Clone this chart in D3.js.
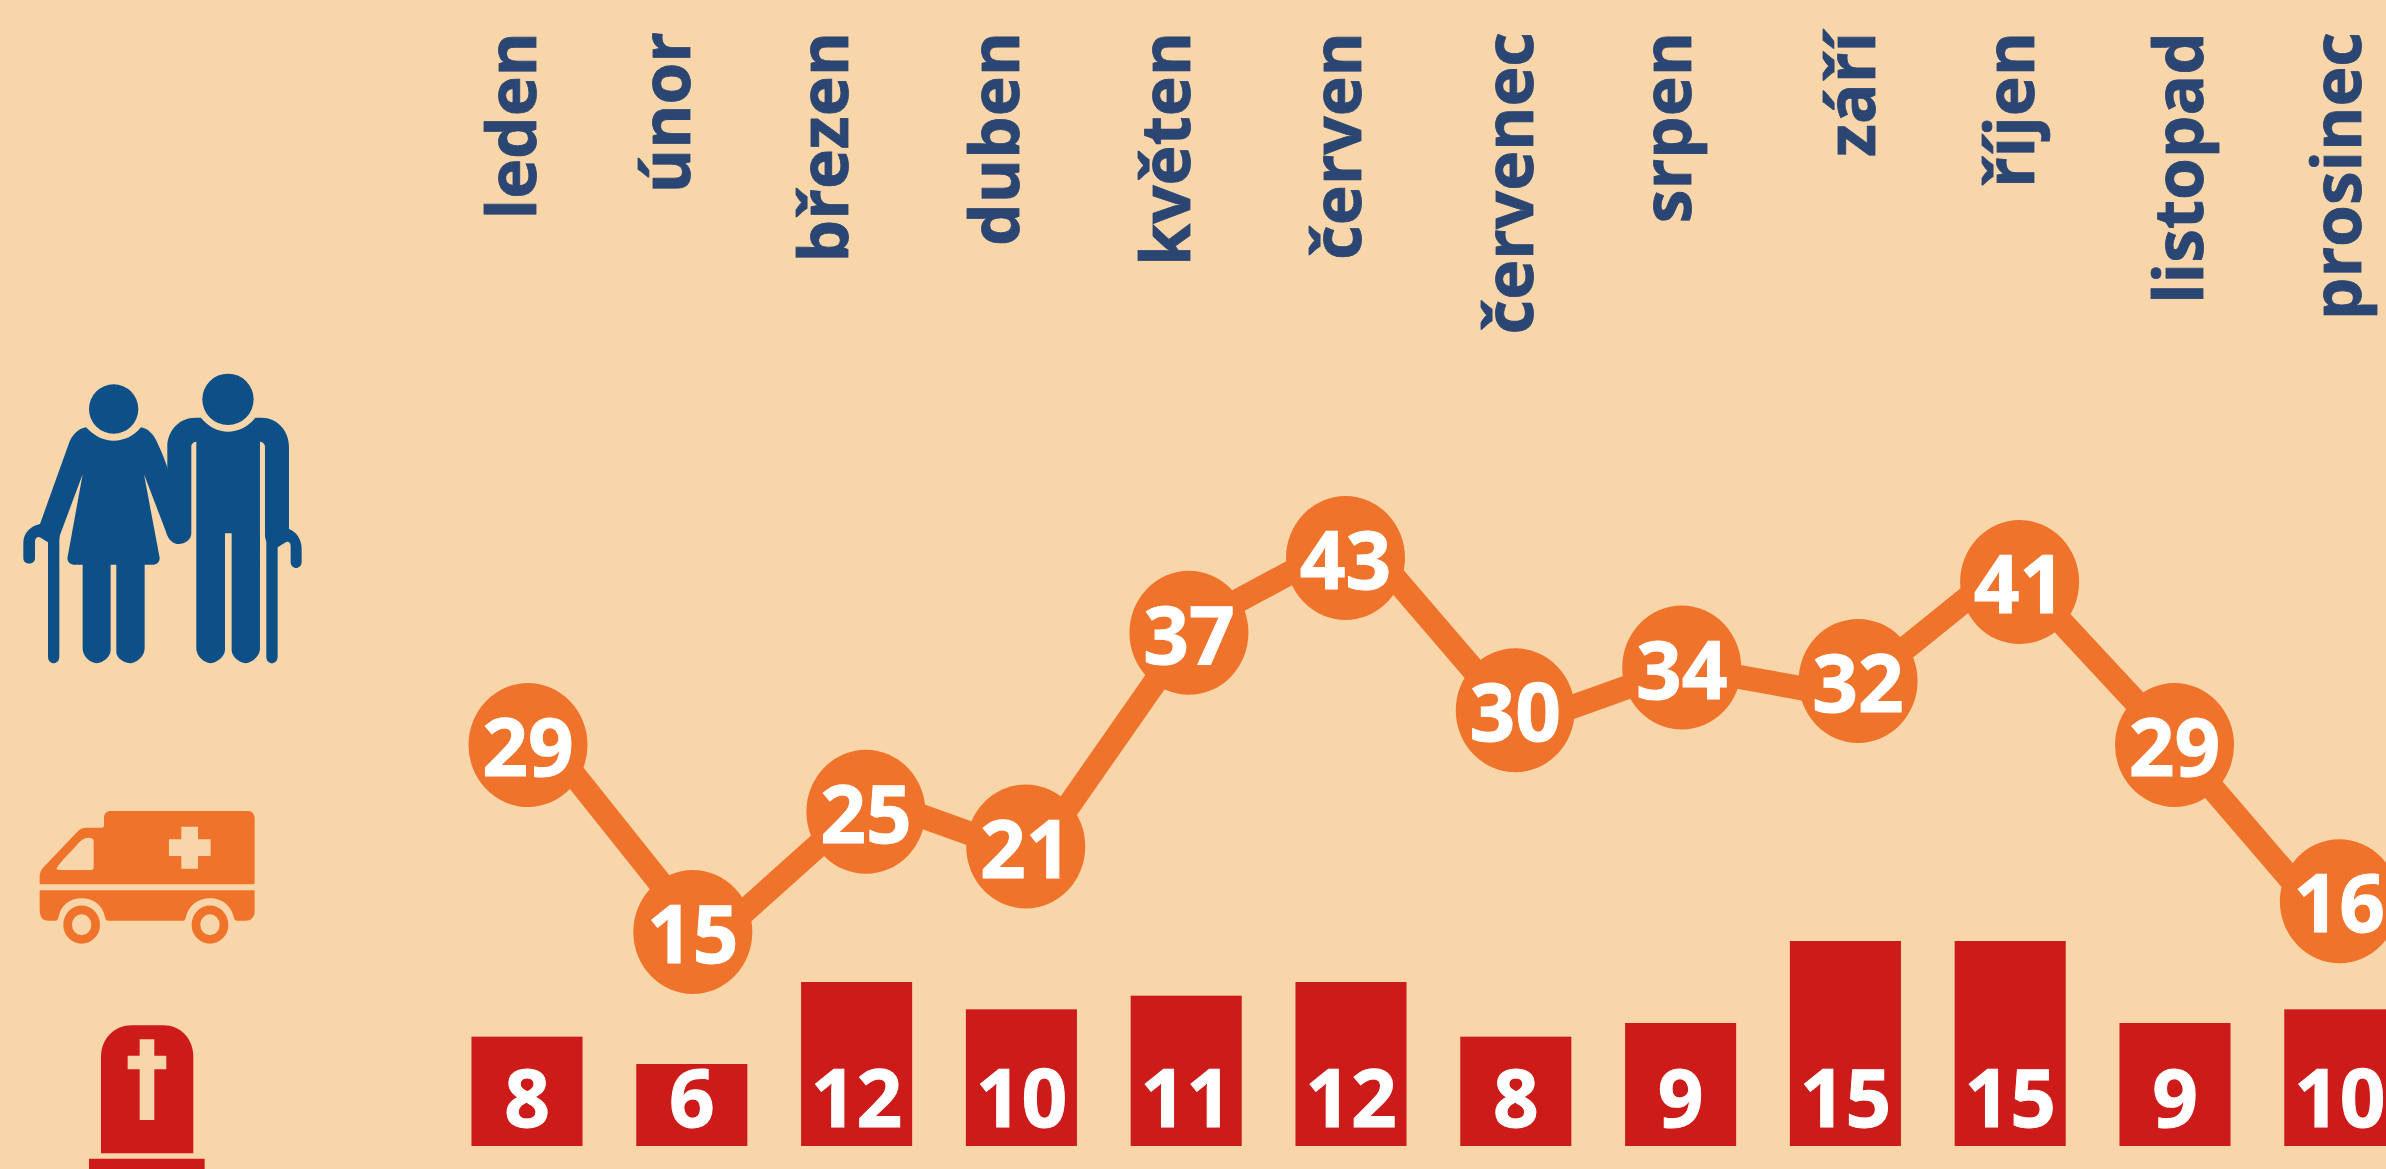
<!DOCTYPE html>
<html lang="cs">
<head>
<meta charset="utf-8">
<title>Senioři</title>
<script src="https://cdn.jsdelivr.net/npm/d3@7"></script>
<style>
  html, body { margin: 0; padding: 0; background: #f8d6aa; overflow: hidden; }
  svg { display: block; }
  text { font-family: "Open Sans", sans-serif; font-weight: 700; }
</style>
</head>
<body>
<svg class="chart"></svg>
<script>
const months = ["leden", "únor", "březen", "duben", "květen", "červen", "červenec", "srpen", "září", "říjen", "listopad", "prosinec"]

// ambulance call-outs, these drive the line
const calls = [29, 15, 25, 21, 37, 43, 30, 34, 32, 41, 29, 16]
// the circles on top are hand placed in the source and do not sit on the line,
// so keep where they really are, in the same units as the data
const bubbleLevels = [29, 15, 24, 21.4, 37.4, 43, 31.6, 34.8, 33.8, 41.2, 29, 17.3]
const bubbleMonthPos = [0, 1, 2.05, 3.02, 4.01, 4.96, 5.99, 7, 8.07, 9.05, 9.99, 10.99]
const labelMonthPos = [0, 0.93, 1.88, 2.91, 3.94, 4.97, 6.01, 6.96, 8.07, 9.03, 10.05, 11]

const deaths = [8, 6, 12, 10, 11, 12, 8, 9, 15, 15, 9, 10]

const width = 2386
const height = 1169
const bg = "#f8d6aa"
const orange = "#f0732b"
const red = "#cd1b1a"
const navy = "#2b4672"
const blue = "#0d5087"

const svg = d3.select("svg.chart").attr("width", width).attr("height", height)

// scales
const xBars = d3.scaleBand()
  .domain(months)
  .range([444.6, 2422.2])
  .paddingInner(0.326)
  .paddingOuter(0.163)
const yBars = d3.scaleLinear().domain([0, 15]).range([1146, 941])

const xLine = d3.scaleLinear().domain([0, 11]).range([546, 2333.5])
const yLine = d3.scaleLinear().domain([15, 43]).range([943.6, 536])

const xBubbles = d3.scaleLinear().domain([0, 11]).range([528, 2341])
const yBubbles = d3.scaleLinear().domain([15, 43]).range([932, 558])

const xLabels = d3.scaleLinear().domain([0, 11]).range([536, 2361])

// month names, rotated
svg.append("g")
  .selectAll("text")
  .data(months)
  .enter()
  .append("text")
  .attr("transform", (d, i) => `translate(${xLabels(labelMonthPos[i])}, 32) rotate(-90)`)
  .attr("text-anchor", "end")
  .attr("fill", navy)
  .attr("stroke", navy)
  .attr("stroke-width", 0.8)
  .style("font-size", "67.5px")
  .text(d => d)

// line
const line = d3.line()
  .x((d, i) => xLine(i))
  .y(d => yLine(d))

svg.append("path")
  .datum(calls)
  .attr("d", line)
  .attr("fill", "none")
  .attr("stroke", orange)
  .attr("stroke-width", 24)

// circles
const bubbles = svg.append("g")
  .selectAll("g")
  .data(bubbleLevels)
  .enter()
  .append("g")
  .attr("transform", (d, i) => `translate(${xBubbles(bubbleMonthPos[i])}, ${yBubbles(d)})`)

bubbles.append("ellipse")
  .attr("rx", 59.5)
  .attr("ry", 62)
  .attr("fill", orange)

bubbles.append("text")
  .attr("y", 31)
  .attr("text-anchor", "middle")
  .attr("fill", "#fff")
  .attr("stroke", "#fff")
  .attr("stroke-width", 1)
  .style("font-size", "80px")
  .text((d, i) => calls[i])

// bars
svg.append("g")
  .selectAll("rect")
  .data(deaths)
  .enter()
  .append("rect")
  .attr("x", (d, i) => xBars(months[i]))
  .attr("y", d => yBars(d))
  .attr("width", xBars.bandwidth())
  .attr("height", d => yBars(0) - yBars(d))
  .attr("fill", red)

svg.append("g")
  .selectAll("text")
  .data(deaths)
  .enter()
  .append("text")
  .attr("x", (d, i) => xBars(months[i]) + xBars.bandwidth() / 2)
  .attr("y", 1127)
  .attr("text-anchor", "middle")
  .attr("fill", "#fff")
  .attr("stroke", "#fff")
  .attr("stroke-width", 1)
  .style("font-size", "80px")
  .text(d => d)

// icons, traced at 3x so they are scaled back down
const couple = svg.append("g").attr("transform", "translate(0, 340) scale(0.3333)").attr("fill", blue)
couple.append("circle").attr("cx", 341).attr("cy", 207).attr("r", 74)
couple.append("circle").attr("cx", 684).attr("cy", 178).attr("r", 77)
couple.append("path").attr("d", "M258,262 C285,290 310,302 341,302 C372,302 400,290 423,262 C445,265 462,285 472,308 C485,335 495,360 503,385 L540,600 L510,600 L498,575 L432,403 L478,648 C482,662 474,674 460,674 L434,674 L434,925 C434,950 410,968 392,970 C372,968 349,955 349,935 L349,674 L332,674 L332,930 C332,950 310,968 290,970 C270,968 248,950 248,925 L248,674 L222,674 C208,674 200,662 203,650 L248,403 L180,585 L178,600 L178,950 C178,976 144,976 144,950 L144,607 L122,593 C115,588 105,592 105,605 L105,655 C105,676 70,676 70,655 L70,610 C70,578 92,558 120,552 L205,315 C215,285 235,265 258,262 Z")
couple.append("path").attr("d", "M603,233 C625,260 655,275 684,275 C713,275 745,260 766,233 L785,233 C830,233 867,270 867,320 L867,567 C890,575 905,600 905,625 L905,665 C905,690 872,690 872,665 L872,618 C872,605 862,603 855,608 L833,622 L833,950 C833,976 799,976 799,950 L799,605 L795,590 L795,320 C795,312 788,305 780,305 L780,925 C780,950 755,968 737,970 C718,968 695,950 695,930 L695,580 L675,580 L675,930 C675,950 650,968 632,970 C612,968 589,950 589,925 L589,305 C580,305 574,312 574,320 L574,580 C574,600 555,612 536,612 C520,612 505,600 498,575 L502,385 L502,320 C502,270 540,233 585,233 Z")

const ambulance = svg.append("g").attr("transform", "translate(0, 780) scale(0.3333)")
ambulance.append("path").attr("fill", orange).attr("d", "M330,93 L745,93 C757,93 764,103 764,115 L764,308 C764,312 762,313 760,313 L122,313 C120,313 119,312 119,308 L119,295 C119,280 122,270 132,260 L232,155 C240,147 247,143 258,143 L305,143 C310,143 312,141 312,136 L312,115 C312,102 320,93 330,93 Z")
ambulance.append("path").attr("fill", bg).attr("d", "M170,265 C185,240 215,215 235,190 C245,178 258,172 272,174 C278,175 281,178 281,185 L281,262 C281,267 278,270 273,270 L180,270 C172,270 168,268 170,265 Z")
ambulance.append("path").attr("fill", bg).attr("d", "M544,140 L594,140 L594,178 L632,178 L632,228 L594,228 L594,266 L544,266 L544,228 L507,228 L507,178 L544,178 Z")
ambulance.append("path").attr("fill", orange).attr("d", "M119,331 L764,331 L764,395 C764,412 752,422 738,422 L712,422 C705,422 703,418 701,410 C692,375 665,355 630,355 C595,355 567,375 558,410 C556,418 555,422 548,422 L325,422 C318,422 317,418 315,410 C307,375 280,355 245,355 C210,355 183,375 176,410 C174,418 172,422 165,422 L145,422 C125,422 119,410 119,385 Z")
ambulance.selectAll("ellipse")
  .data([245, 630])
  .enter()
  .append("ellipse")
  .attr("cx", d => d)
  .attr("cy", 434)
  .attr("rx", 42)
  .attr("ry", 44.5)
  .attr("fill", "none")
  .attr("stroke", orange)
  .attr("stroke-width", 26)

const grave = svg.append("g").attr("transform", "translate(0, 780) scale(0.3333)")
grave.append("path").attr("fill", red).attr("d", "M303,1120 L303,830 C303,775 345,736 395,736 L490,736 C540,736 580,775 580,830 L580,1120 Z")
grave.append("path").attr("fill", bg).attr("d", "M419,778 L463,778 L463,827 L499,827 L499,868 L463,868 L463,1020 L419,1020 L419,868 L383,868 L383,827 L419,827 Z")
grave.append("path").attr("fill", red).attr("d", "M267,1136 L614,1136 L614,1170 L267,1170 Z")
</script>
</body>
</html>
